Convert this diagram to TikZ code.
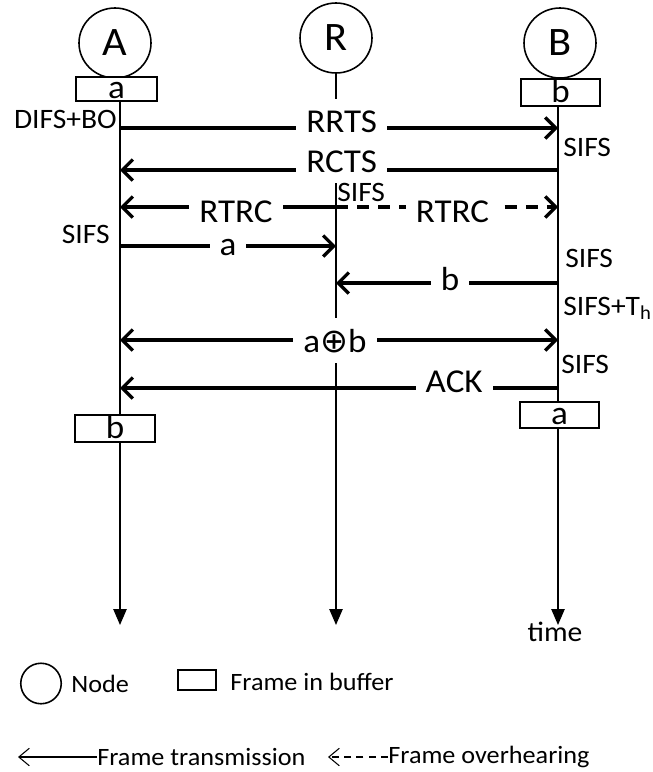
\documentclass[tikz,border=0pt]{standalone}
\usepackage{fontspec}
\setmainfont{Carlito}[FakeStretch=1.05]
\newfontfamily\opfont{DejaVu Sans}
\usetikzlibrary{arrows.meta,positioning,shapes.geometric}

\begin{document}
\begin{tikzpicture}[
  big/.style={font=\fontsize{19}{21}\selectfont},
  small/.style={font=\fontsize{16}{18}\selectfont},
  legend/.style={font=\fontsize{14.2}{16}\selectfont, inner sep=0pt},
  station/.style={draw, ellipse, line width=0.9pt, minimum width=1.44cm, minimum height=1.40cm,
    inner sep=0pt, font=\fontsize{23}{25}\selectfont},
  frame/.style={draw, fill=white, line width=0.9pt, inner sep=0pt, text height=0.40cm, text depth=0.02cm,
    font=\fontsize{19}{21}\selectfont},
  life/.style={line width=0.85pt, -{Triangle[length=9pt,width=7.5pt]}},
  msg/.style={line width=1.9pt, -{Straight Barb[length=6pt,width=12pt]}},
  lbl/.style={big, fill=white, anchor=base, inner xsep=0.2cm, inner ysep=0.22cm},
  note/.style={small, inner sep=0pt}
]
\useasboundingbox (0,0) rectangle (13.04,-15.44);
% stations and initial buffers
\node[station] (nA) at (2.30,-0.86) {A};
\node[station] (nR) at (6.72,-0.76) {R};
\node[station] (nB) at (11.20,-0.86) {B};
\node[frame, minimum width=1.62cm, minimum height=0.48cm] (fa) at (2.33,-1.78) {a};
\node[frame, minimum width=1.58cm, minimum height=0.54cm] (fb) at (11.21,-1.85) {b};
% time lines
\coordinate (tA) at (2.40,-2.00);
\coordinate (tR) at (nR.south);
\coordinate (tB) at (11.16,-2.12);
\coordinate (eA) at (2.40,-12.50);
\coordinate (eR) at (6.72,-12.50);
\coordinate (eB) at (11.16,-12.50);
\draw[life] (tA) -- (eA);
\draw[life] (tR) -- (eR);
\draw[life] (tB) -- (eB);
% handshake
\draw[msg] (tA |- 0,-2.56) -- node[lbl, pos=0.506, yshift=-0.08cm] {RRTS} (tB |- 0,-2.56);
\draw[msg] (tB |- 0,-3.40) -- node[lbl, pos=0.494, yshift=-0.04cm] {RCTS} (tA |- 0,-3.40);
\draw[msg] (tR |- 0,-4.14) -- node[lbl, pos=0.463, yshift=-0.30cm] {RTRC} (tA |- 0,-4.14);
\draw[msg, dash pattern=on 7pt off 5pt] (tR |- 0,-4.14) -- node[lbl, pos=0.525, yshift=-0.30cm] {RTRC} (tB |- 0,-4.14);
% data exchange
\draw[msg] (tA |- 0,-4.92) -- node[lbl, pos=0.5, yshift=-0.18cm] {a} (tR |- 0,-4.92);
\draw[msg] (tB |- 0,-5.66) -- node[lbl, pos=0.486, yshift=-0.14cm] {b} (tR |- 0,-5.66);
\draw[msg, {Straight Barb[length=6pt,width=12pt]}-{Straight Barb[length=6pt,width=12pt]}]
  (tA |- 0,-6.80) -- node[lbl, pos=0.491, yshift=-0.24cm] {a{\opfont ⊕}b} (tB |- 0,-6.80);
\draw[msg] (tB |- 0,-7.76) -- node[lbl, pos=0.237, yshift=-0.08cm] {ACK} (tA |- 0,-7.76);
% interframe spaces
\node[note, anchor=base east] (dBO) at (2.34,-2.56) {DIFS+BO};
\node[note, anchor=base west] (s1) at (11.26,-3.12) {SIFS};
\node[note, anchor=base west] (s2) at (6.74,-4.02) {SIFS};
\node[note, anchor=base east] (s3) at (2.20,-4.86) {SIFS};
\node[note, anchor=base west] (s4) at (11.30,-5.34) {SIFS};
\node[note, anchor=base west] (s5) at (11.26,-6.30) {SIFS+T\textsubscript{h}};
\node[note, anchor=base west] (s6) at (11.22,-7.46) {SIFS};
\node[note] (tm) at (11.10,-12.64) {time};
% decoded buffers
\node[frame, minimum width=1.60cm, minimum height=0.54cm] (fb2) at (2.30,-8.57) {b};
\node[frame, minimum width=1.58cm, minimum height=0.52cm] (fa2) at (11.19,-8.30) {a};
% legend
\node[draw, circle, line width=0.9pt, minimum size=0.81cm, inner sep=0pt] (lgN) at (0.82,-13.67) {};
\node[legend, anchor=west] (lgNx) at (1.42,-13.67) {Node};
\node[draw, line width=0.9pt, minimum width=0.76cm, minimum height=0.40cm, inner sep=0pt] (lgF) at (3.94,-13.60) {};
\node[legend, anchor=west] (lgFx) at (4.60,-13.64) {Frame in buffer};
\node[legend, anchor=west] (lgT) at (1.94,-15.14) {Frame transmission};
\coordinate (lgTe) at (0.36,-15.14);
\draw[line width=0.6pt, -{Straight Barb[length=6pt,width=10pt]}] (lgT.west) -- (lgTe);
\node[legend, anchor=west] (lgO) at (7.76,-15.14) {Frame overhearing};
\coordinate (lgOe) at (6.56,-15.14);
\draw[line width=0.6pt, dash pattern=on 4pt off 3pt, -{Straight Barb[length=6pt,width=10pt]}] (lgO.west) -- (lgOe);
\end{tikzpicture}
\end{document}
